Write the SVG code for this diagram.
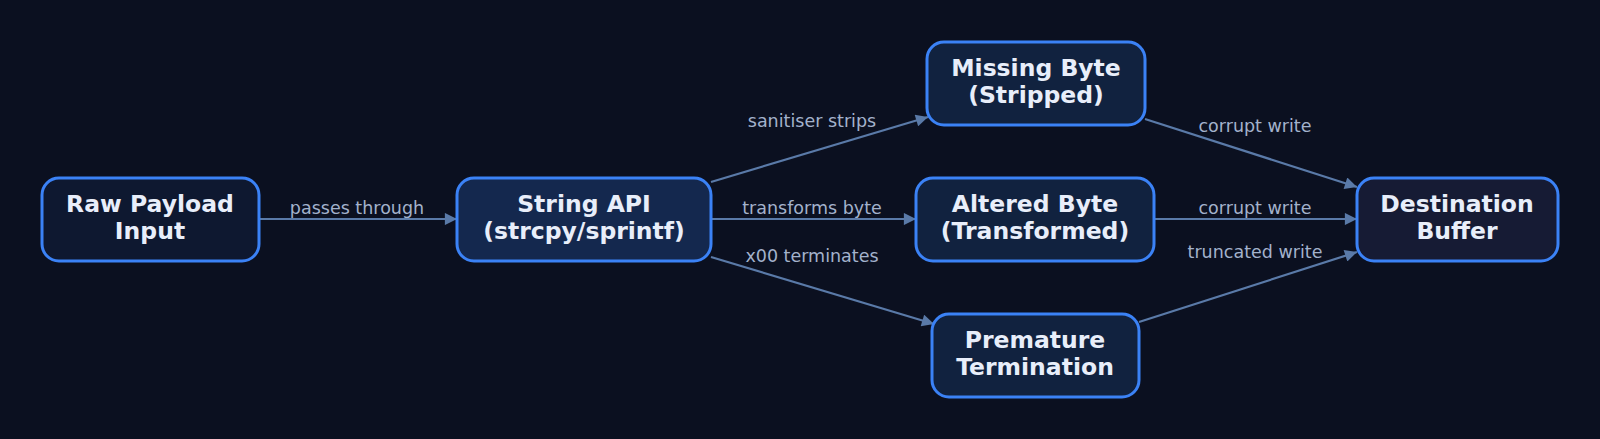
<svg xmlns="http://www.w3.org/2000/svg" width="1600" height="439" viewBox="0 0 1600 439">
<defs>
<style>
.node rect{stroke:#3b82f6;stroke-width:3}
.node text{font-family:"DejaVu Sans",sans-serif;font-weight:bold;font-size:23.5px;fill:#e8eefa;text-anchor:middle}
.edge{stroke:#5a7aa8;stroke-width:2.2;fill:none;marker-end:url(#arr)}
.lbl{font-family:"DejaVu Sans",sans-serif;font-size:17.5px;fill:#a3b2cc;text-anchor:middle}
</style>
<marker id="arr" viewBox="0 0 10 10" refX="10" refY="5" markerWidth="7" markerHeight="5.5" orient="auto" markerUnits="strokeWidth">
<path d="M0,0 L10,5 L0,10 z" fill="#5a7aa8"/>
</marker>
</defs>
<rect width="1600" height="439" fill="#0b1020"/>
<g id="connectors">
<line class="edge" x1="259" y1="219" x2="457" y2="219"/>
<text class="lbl" x="357" y="214">passes through</text>
<line class="edge" x1="711" y1="182" x2="928" y2="117"/>
<text class="lbl" x="812" y="127">sanitiser strips</text>
<line class="edge" x1="711" y1="219" x2="916" y2="219"/>
<text class="lbl" x="812" y="214">transforms byte</text>
<line class="edge" x1="711" y1="257" x2="934" y2="324"/>
<text class="lbl" x="812" y="262">x00 terminates</text>
<line class="edge" x1="1145" y1="119" x2="1357" y2="187"/>
<text class="lbl" x="1255" y="132">corrupt write</text>
<line class="edge" x1="1154" y1="219" x2="1357" y2="219"/>
<text class="lbl" x="1255" y="214">corrupt write</text>
<line class="edge" x1="1139" y1="322" x2="1357" y2="252"/>
<text class="lbl" x="1255" y="258">truncated write</text>
</g>
<g id="raw" class="node">
<rect x="42" y="178" width="217" height="83" rx="17" fill="#0e1830"/>
<text x="150" y="212">Raw Payload</text>
<text x="150" y="239">Input</text>
</g>
<g id="api" class="node">
<rect x="457" y="178" width="254" height="83" rx="17" fill="#14284e"/>
<text x="584" y="212">String API</text>
<text x="584" y="239">(strcpy/sprintf)</text>
</g>
<g id="missing" class="node">
<rect x="927" y="42" width="218" height="83" rx="17" fill="#11223f"/>
<text x="1036" y="76">Missing Byte</text>
<text x="1036" y="103">(Stripped)</text>
</g>
<g id="altered" class="node">
<rect x="916" y="178" width="238" height="83" rx="17" fill="#11223f"/>
<text x="1035" y="212">Altered Byte</text>
<text x="1035" y="239">(Transformed)</text>
</g>
<g id="premature" class="node">
<rect x="932" y="314" width="207" height="83" rx="17" fill="#11223f"/>
<text x="1035" y="348">Premature</text>
<text x="1035" y="375">Termination</text>
</g>
<g id="dest" class="node">
<rect x="1357" y="178" width="201" height="83" rx="17" fill="#161b34"/>
<text x="1457" y="212">Destination</text>
<text x="1457" y="239">Buffer</text>
</g>
</svg>
